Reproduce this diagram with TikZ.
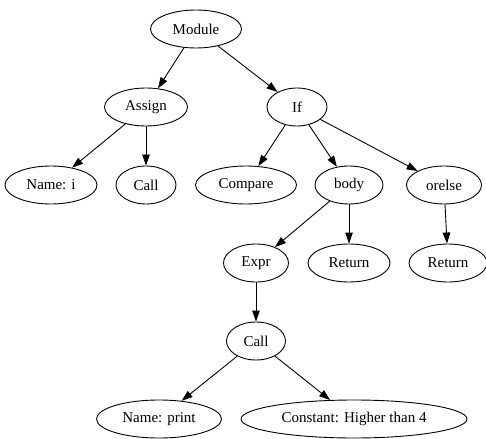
\documentclass[tikz,border=0pt]{standalone}
\usepackage{fontspec}
\setmainfont{Liberation Serif}
\usepackage{tikz}
\usetikzlibrary{arrows.meta,shapes.geometric}

\begin{document}
\begin{tikzpicture}[>={Triangle[length=11pt,width=7.5pt]},line width=0.9pt,node distance=78pt,
 ast/.style={ellipse,draw,inner sep=0pt,minimum height=38pt,minimum width=#1,
 font=\fontsize{15}{18}\selectfont}]
 \useasboundingbox (0,0) rectangle (486pt,-438pt);
 \node[ast=91pt] (mod) at (196pt,-29pt) {Module};
 \node[ast=83pt,below of=mod,xshift=-50pt] (asg) {Assign};
 \node[ast=60pt,below of=mod,xshift=101pt] (if) {If};
 \node[ast=92pt,below of=asg,xshift=-95pt] (nmi) {Name: i};
 \node[ast=60pt,below of=asg] (cl1) {Call};
 \node[ast=101pt,below of=if,xshift=-51pt] (cmp) {Compare};
 \node[ast=68pt,below of=if,xshift=52pt] (bdy) {body};
 \node[ast=75pt,below of=if,xshift=147pt] (els) {orelse};
 \node[ast=65pt,below of=bdy,xshift=-93pt] (exp) {Expr};
 \node[ast=82pt,below of=bdy] (rt1) {Return};
 \node[ast=78pt,below of=els,xshift=4pt] (rt2) {Return};
 \node[ast=59pt,below of=exp] (cl2) {Call};
 \node[ast=125pt,below of=cl2,xshift=-97pt] (nmp) {Name: print};
 \node[ast=226pt,below of=cl2,xshift=98pt] (cst) {Constant: Higher than 4};

 \draw [->]
 (mod) edge (asg)
 edge (if)
 (asg) edge (nmi)
 edge (cl1)
 (if) edge (cmp)
 edge (bdy)
 edge (els)
 (bdy) edge (exp)
 edge (rt1)
 (els) edge (rt2)
 (exp) edge (cl2)
 (cl2) edge (nmp)
 edge (cst);
\end{tikzpicture}
\end{document}
